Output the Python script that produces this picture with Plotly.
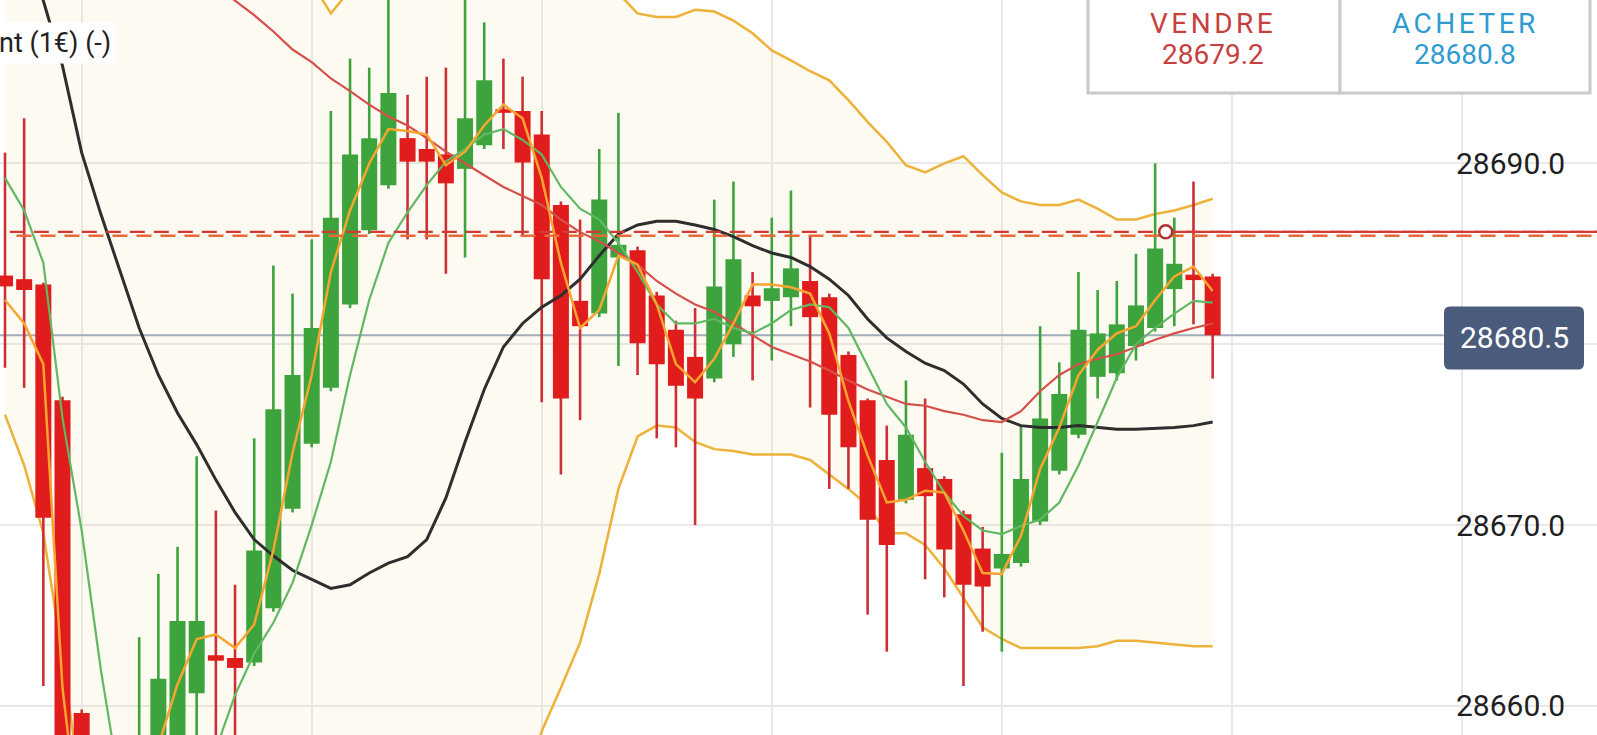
import plotly.graph_objects as go

W, H = 1597, 735

# ---------------- data ----------------
idx = list(range(64))
opens = [28683.8, 28683.6, 28683.3, 28676.9, 28659.6, 28654.5, 28649.5, 28651.5, 28657.0, 28658.2,
         28660.7, 28662.8, 28662.65, 28662.4, 28665.4, 28670.9, 28674.5, 28677.6, 28682.2, 28686.3,
         28688.8, 28691.4, 28690.8, 28690.5, 28689.7, 28691.0, 28693.0, 28692.9, 28691.6, 28687.7,
         28682.4, 28681.7, 28684.8, 28685.2, 28682.7, 28680.8, 28679.3, 28678.1, 28680.0, 28682.7,
         28682.4, 28682.6, 28683.5, 28682.6, 28679.4, 28676.9, 28673.6, 28671.4, 28673.15, 28672.55,
         28670.6, 28668.7, 28667.6, 28667.9, 28670.2, 28673.0, 28675.0, 28678.2, 28678.4, 28679.9,
         28680.9, 28683.05, 28683.85, 28683.75]
highs = [28690.6, 28692.5, 28683.4, 28677.1, 28659.8, 28656.0, 28653.0, 28663.8, 28667.3, 28668.8,
         28673.8, 28670.8, 28666.7, 28674.8, 28684.35, 28682.8, 28685.8, 28692.9, 28695.8, 28695.3,
         28701.0, 28693.8, 28694.8, 28695.3, 28700.5, 28697.8, 28695.8, 28694.8, 28692.9, 28687.9,
         28686.9, 28690.8, 28692.8, 28685.4, 28682.9, 28681.3, 28682.0, 28688.0, 28689.0, 28684.0,
         28687.0, 28688.5, 28686.0, 28682.8, 28679.6, 28677.0, 28675.5, 28678.0, 28677.0, 28672.7,
         28670.8, 28669.9, 28674.0, 28675.5, 28681.0, 28679.0, 28684.0, 28683.0, 28683.5, 28685.0,
         28690.0, 28687.0, 28689.0, 28683.9]
lows = [28678.7, 28677.6, 28661.1, 28650.0, 28652.5, 28647.5, 28646.5, 28650.5, 28655.5, 28656.5,
        28657.0, 28657.5, 28657.8, 28662.2, 28665.2, 28670.7, 28674.3, 28677.4, 28682.0, 28686.1,
        28688.6, 28685.8, 28685.8, 28683.9, 28684.8, 28690.8, 28690.8, 28686.0, 28676.8, 28672.8,
        28675.8, 28681.5, 28678.8, 28678.3, 28674.8, 28674.3, 28670.0, 28677.9, 28679.3, 28678.0,
        28679.1, 28681.0, 28676.5, 28672.0, 28672.0, 28665.05, 28663.0, 28671.2, 28667.0, 28666.0,
        28661.1, 28664.1, 28663.0, 28667.7, 28670.0, 28672.8, 28674.8, 28677.0, 28678.0, 28679.1,
        28680.7, 28681.0, 28681.1, 28678.1]
closes = [28683.2, 28683.0, 28670.4, 28652.0, 28654.5, 28649.5, 28651.5, 28657.0, 28661.5, 28664.7,
          28664.7, 28662.5, 28662.1, 28668.6, 28676.4, 28678.3, 28680.9, 28687.0, 28690.5, 28691.4,
          28693.9, 28690.1, 28690.1, 28688.9, 28692.5, 28694.6, 28692.8, 28690.05, 28683.6, 28677.0,
          28681.0, 28688.0, 28685.5, 28680.05, 28678.9, 28677.7, 28677.0, 28683.2, 28684.7, 28682.1,
          28683.1, 28684.2, 28681.5, 28676.1, 28674.3, 28670.3, 28668.9, 28675.0, 28671.6, 28668.65,
          28666.7, 28666.6, 28668.4, 28672.55, 28675.9, 28677.25, 28680.8, 28680.6, 28681.1, 28682.15,
          28685.3, 28684.45, 28683.55, 28680.5]

bb_upper = [28707.0, 28707.5, 28708.0, 28708.3, 28708.0, 28707.5, 28707.0, 28706.0, 28705.0, 28704.0,
            28703.0, 28702.0, 28701.3, 28700.7, 28700.3, 28700.1, 28700.0, 28698.3, 28699.6, 28700.8,
            28702.0, 28703.0, 28703.5, 28703.5, 28703.2, 28703.0, 28702.8, 28702.5, 28702.3, 28701.8,
            28701.2, 28700.5, 28699.4, 28698.3, 28698.1, 28698.1, 28698.5, 28698.4, 28697.9, 28697.2,
            28696.25, 28695.7, 28695.1, 28694.6, 28693.5, 28692.3, 28691.2, 28689.9, 28689.5, 28690.0,
            28690.4, 28689.35, 28688.4, 28687.9, 28687.7, 28687.7, 28688.0, 28687.5, 28686.9, 28686.9,
            28687.2, 28687.4, 28687.7, 28688.05]
bb_lower = [28676.1, 28673.3, 28669.55, 28662.7, 28655.0, 28650.0, 28646.5, 28644.5, 28643.5, 28643.0,
            28643.0, 28643.2, 28643.5, 28644.0, 28644.5, 28645.0, 28645.5, 28646.0, 28646.5, 28647.0,
            28647.5, 28648.0, 28648.5, 28649.5, 28650.5, 28651.8, 28653.0, 28655.0, 28658.6, 28661.0,
            28663.5, 28667.3, 28672.0, 28674.9, 28675.5, 28675.4, 28674.6, 28674.2, 28674.1, 28673.9,
            28673.9, 28673.9, 28673.6, 28672.8, 28672.0, 28671.1, 28669.55, 28669.55, 28668.9, 28667.6,
            28666.0, 28664.35, 28663.7, 28663.2, 28663.2, 28663.2, 28663.2, 28663.3, 28663.6, 28663.6,
            28663.5, 28663.4, 28663.3, 28663.3]
ma_orange = [28682.45, 28681.15, 28678.9, 28661.0, 28652.0, 28648.5, 28648.5, 28651.5, 28657.8, 28661.2,
             28663.7, 28663.95, 28663.2, 28664.5, 28668.6, 28674.0, 28678.3, 28684.0, 28687.4, 28690.0,
             28691.9, 28691.8, 28691.6, 28689.9, 28690.65, 28692.1, 28693.25, 28692.5, 28689.2, 28684.5,
             28680.9, 28681.9, 28684.9, 28684.4, 28682.2, 28678.9, 28677.9, 28679.2, 28681.15, 28683.3,
             28683.3, 28683.15, 28682.8, 28680.6, 28676.85, 28673.85, 28671.25, 28671.4, 28671.9, 28671.8,
             28669.7, 28667.35, 28667.3, 28669.4, 28673.1, 28675.4, 28678.3, 28679.7, 28680.6, 28681.0,
             28682.45, 28683.75, 28684.3, 28682.95]
ma_green = [28689.2, 28687.4, 28684.5, 28675.9, 28669.7, 28662.0, 28655.5, 28652.5, 28651.5, 28652.5,
            28655.0, 28657.6, 28660.6, 28662.9, 28664.6, 28666.8, 28670.0, 28673.5, 28678.3, 28682.45,
            28685.6, 28687.3, 28688.8, 28690.1, 28690.8, 28691.6, 28691.9, 28691.3, 28690.5, 28688.7,
            28687.5, 28686.9, 28685.6, 28684.0, 28682.2, 28681.15, 28681.15, 28681.4, 28680.9, 28680.6,
            28681.15, 28681.9, 28682.2, 28682.05, 28680.9, 28678.8, 28676.7, 28675.4, 28673.5, 28671.8,
            28670.5, 28669.7, 28669.5, 28669.95, 28670.3, 28671.25, 28673.3, 28675.7, 28678.15, 28680.0,
            28680.9, 28681.7, 28682.4, 28682.3]
ma_red = [28709.5, 28708.6, 28707.7, 28706.8, 28705.9, 28705.0, 28704.1, 28703.2, 28702.3, 28701.4,
          28700.6, 28699.9, 28699.0, 28698.2, 28697.3, 28696.3, 28695.6, 28694.7, 28694.0, 28693.25,
          28692.6, 28692.1, 28691.4, 28690.65, 28690.0, 28689.35, 28688.7, 28688.2, 28687.7, 28686.9,
          28686.2, 28685.7, 28685.05, 28684.4, 28683.5, 28682.8, 28682.2, 28681.8, 28681.15, 28680.5,
          28679.85, 28679.45, 28679.05, 28678.55, 28678.0, 28677.5, 28677.1, 28676.7, 28676.6, 28676.3,
          28676.1, 28675.8, 28675.7, 28676.3, 28677.4, 28678.3, 28678.9, 28679.2, 28679.45, 28679.85,
          28680.25, 28680.6, 28680.9, 28681.15]
ma_black = [28705.5, 28702.3, 28699.0, 28695.4, 28690.6, 28687.2, 28684.0, 28680.9, 28678.3, 28676.2,
            28674.45, 28672.5, 28670.7, 28669.2, 28668.3, 28667.5, 28667.0, 28666.5, 28666.7, 28667.35,
            28667.9, 28668.25, 28669.2, 28671.5, 28674.6, 28677.5, 28679.85, 28681.15, 28682.05, 28682.7,
            28683.6, 28684.9, 28686.1, 28686.6, 28686.8, 28686.8, 28686.6, 28686.35, 28685.95, 28685.45,
            28685.05, 28684.8, 28684.3, 28683.6, 28682.7, 28681.4, 28680.35, 28679.6, 28678.95, 28678.55,
            28677.8, 28676.7, 28675.9, 28675.5, 28675.4, 28675.4, 28675.5, 28675.4, 28675.3, 28675.3,
            28675.35, 28675.4, 28675.5, 28675.7]

y_ticks = [28660, 28670, 28680, 28690]
grid_x = [4, 16, 28, 40, 52, 64, 76]
last_price = closes[-1]
order_level = 28686.22
order_level2 = 28686.0
entry_x = 60.55
sell_label, sell_price = "VENDRE", "28679.2"
buy_label, buy_price = "ACHETER", "28680.8"
corner_text = "nt (1€) (-)"

X_RANGE = [-0.261, 83.05]
Y_RANGE = [28658.39, 28699.04]

# ---------------- figure ----------------
fig = go.Figure()

# Bollinger band fill
fig.add_trace(go.Scatter(x=idx, y=bb_lower, mode="lines",
                         line=dict(color="#ecb23a", width=2.5), hoverinfo="skip"))
fig.add_trace(go.Scatter(x=idx, y=bb_upper, mode="lines", fill="tonexty",
                         fillcolor="rgba(240,215,150,0.13)",
                         line=dict(color="#ecb23a", width=2.5), hoverinfo="skip"))

# current price line
fig.add_trace(go.Scatter(x=[X_RANGE[0], X_RANGE[0] + (X_RANGE[1] - X_RANGE[0]) * 0.904],
                         y=[last_price, last_price], mode="lines",
                         line=dict(color="#a3acba", width=2), hoverinfo="skip"))

# candles
def seg(cond, a, b):
    xs, ys = [], []
    for i in idx:
        if cond(i):
            xs += [i, i, None]
            ys += [a[i], b[i], None]
    return xs, ys

up = lambda i: closes[i] >= opens[i]
dn = lambda i: closes[i] < opens[i]

for cond, col in [(up, "#3da43d"), (dn, "#cc2f35")]:
    xs, ys = seg(cond, lows, highs)
    fig.add_trace(go.Scatter(x=xs, y=ys, mode="lines", line=dict(color=col, width=2.6),
                             hoverinfo="skip", connectgaps=False))
for cond, col in [(up, "#3da43d"), (dn, "#e01c1c")]:
    xs, ys = seg(cond, opens, closes)
    fig.add_trace(go.Scatter(x=xs, y=ys, mode="lines", line=dict(color=col, width=16),
                             hoverinfo="skip", connectgaps=False))

# moving averages
fig.add_trace(go.Scatter(x=idx, y=ma_black, mode="lines", line=dict(color="#2e2e2e", width=3), hoverinfo="skip"))
fig.add_trace(go.Scatter(x=idx, y=ma_red, mode="lines", line=dict(color="#d64f4a", width=2.2), hoverinfo="skip"))
fig.add_trace(go.Scatter(x=idx, y=ma_green, mode="lines", line=dict(color="#62b862", width=2.2), hoverinfo="skip"))
fig.add_trace(go.Scatter(x=idx, y=ma_orange, mode="lines", line=dict(color="#f8a530", width=2.5), hoverinfo="skip"))

# order lines
fig.add_trace(go.Scatter(x=[0.6, X_RANGE[1]], y=[order_level2, order_level2], mode="lines",
                         line=dict(color="#e8693a", width=2.5, dash="15px,9px"), hoverinfo="skip"))
fig.add_trace(go.Scatter(x=[0.25, X_RANGE[1]], y=[order_level, order_level], mode="lines",
                         line=dict(color="#d23b33", width=2.2, dash="15px,9px"), hoverinfo="skip"))
fig.add_trace(go.Scatter(x=[entry_x, X_RANGE[1]], y=[order_level, order_level], mode="lines",
                         line=dict(color="#d23b33", width=2.2), hoverinfo="skip"))
fig.add_trace(go.Scatter(x=[entry_x], y=[order_level], mode="markers",
                         marker=dict(size=13, color="white", line=dict(color="#b03232", width=2.5)),
                         hoverinfo="skip"))

shapes = []
annotations = []

# price label box (rounded)
px_per_unit = H / (Y_RANGE[1] - Y_RANGE[0])
x0, x1 = 1444 / W, 1584 / W
yc = last_price - 0.15
hh = 63 / 2 / px_per_unit
y0, y1 = yc - hh, yc + hh
rx = 6 / W
ry = 6 / px_per_unit
path = (f"M {x0+rx},{y0} L {x1-rx},{y0} Q {x1},{y0} {x1},{y0+ry} L {x1},{y1-ry} "
        f"Q {x1},{y1} {x1-rx},{y1} L {x0+rx},{y1} Q {x0},{y1} {x0},{y1-ry} "
        f"L {x0},{y0+ry} Q {x0},{y0} {x0+rx},{y0} Z")
shapes.append(dict(type="path", path=path, xref="paper", yref="y",
                   fillcolor="#4b5b7b", line=dict(width=0), layer="above"))
annotations.append(dict(x=(x0 + x1) / 2, y=yc, xref="paper", yref="y", text=f"{last_price:.1f}",
                        showarrow=False, font=dict(family="Roboto", size=30, color="white"),
                        xanchor="center", yanchor="middle"))

# y tick labels
for v in y_ticks:
    if abs(v - last_price) < 1.5:
        continue
    annotations.append(dict(x=1567 / W, y=v, xref="paper", yref="y", text=f"{v:.1f}",
                            showarrow=False, xanchor="right", yanchor="middle",
                            font=dict(family="Roboto", size=30, color="#1f1f1f")))

# top boxes
for bx0, bx1 in [(1088, 1340), (1340, 1590)]:
    shapes.append(dict(type="rect", xref="paper", yref="paper", x0=bx0 / W, x1=bx1 / W,
                       y0=1 - 93 / H, y1=1 + 6 / H, fillcolor="white",
                       line=dict(color="#cacaca", width=3), layer="above"))
for cx, lab, val, col in [(1213, sell_label, sell_price, "#c8403d"),
                          (1465, buy_label, buy_price, "#2f9bd1")]:
    annotations.append(dict(x=cx / W, y=1 - 24 / H, xref="paper", yref="paper",
                            text=f"<span style='letter-spacing:3.5px'>{lab}</span>",
                            showarrow=False, xanchor="center", yanchor="middle",
                            font=dict(family="Roboto", size=28, color=col)))
    annotations.append(dict(x=cx / W, y=1 - 55 / H, xref="paper", yref="paper", text=val,
                            showarrow=False, xanchor="center", yanchor="middle",
                            font=dict(family="Roboto", size=28, color=col)))

# top-left label
annotations.append(dict(x=116 / W, y=1 - 43 / H, xref="paper", yref="paper", text=corner_text,
                        showarrow=False, xanchor="right", yanchor="middle", bgcolor="white",
                        borderpad=4, font=dict(family="Roboto", size=27, color="#222222")))

fig.update_layout(
    width=W, height=H, margin=dict(l=0, r=0, t=0, b=0),
    plot_bgcolor="white", paper_bgcolor="white", showlegend=False,
    shapes=shapes, annotations=annotations,
    xaxis=dict(range=X_RANGE, tickvals=grid_x, showticklabels=False, showgrid=True,
               gridcolor="#e9e9e9", gridwidth=2, zeroline=False, showline=False, fixedrange=True),
    yaxis=dict(range=Y_RANGE, tickvals=y_ticks, showticklabels=False, showgrid=True,
               gridcolor="#e9e9e9", gridwidth=2, zeroline=False, showline=False, fixedrange=True),
)

fig.write_html("out.html", config={"displayModeBar": False},
               post_script="document.body.style.margin='0';document.body.style.overflow='hidden';")
